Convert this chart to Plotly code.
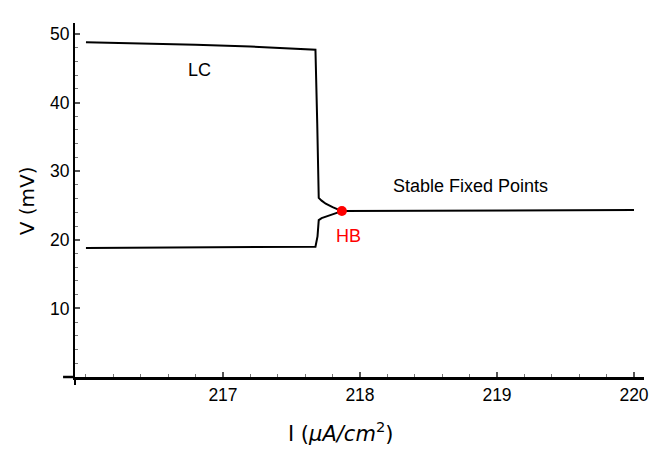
import plotly.graph_objects as go

# ---- data ----
upper_I = [216.0, 216.4, 216.8, 217.2, 217.45, 217.6, 217.675, 217.688, 217.699, 217.72, 217.75, 217.80, 217.868]
upper_V = [48.78, 48.62, 48.42, 48.15, 47.95, 47.80, 47.70, 37.0, 26.10, 25.70, 25.25, 24.75, 24.18]

lower_I = [216.0, 216.8, 217.4, 217.675, 217.69, 217.699, 217.72, 217.749, 217.79, 217.831, 217.868]
lower_V = [18.79, 18.86, 18.93, 18.98, 20.5, 22.87, 23.15, 23.35, 23.68, 23.99, 24.18]

stable_I = [217.868, 218.5, 219.0, 219.5, 220.0]
stable_V = [24.18, 24.22, 24.26, 24.30, 24.33]

hb_I = [217.868]
hb_V = [24.18]

x_tickvals = [217, 218, 219, 220]
x_ticktext = ["217", "218", "219", "220"]
y_tickvals = [10, 20, 30, 40, 50]
y_ticktext = ["10", "20", "30", "40", "50"]

TICKFONT = dict(family="Liberation Sans, Arial, sans-serif", size=17.5, color="black")
LABELFONT = dict(family="Liberation Sans, Arial, sans-serif", size=18, color="black")

# page body has an 8px margin: figure coordinates are offset by 8px
W, H = 653, 443
L, R, T, B = 67, 14, 15, 74
PW, PH = W - L - R, H - T - B

fig = go.Figure()
line_style = dict(color="black", width=2)
fig.add_trace(go.Scatter(x=upper_I, y=upper_V, mode="lines", line=line_style, showlegend=False, hoverinfo="skip"))
fig.add_trace(go.Scatter(x=lower_I, y=lower_V, mode="lines", line=line_style, showlegend=False, hoverinfo="skip"))
fig.add_trace(go.Scatter(x=stable_I, y=stable_V, mode="lines", line=line_style, showlegend=False, hoverinfo="skip"))
fig.add_trace(go.Scatter(x=hb_I, y=hb_V, mode="markers", marker=dict(color="#ff0000", size=10), showlegend=False, hoverinfo="skip"))

fig.update_layout(
    width=W, height=H,
    margin=dict(l=L, r=R, t=T, b=B),
    paper_bgcolor="white", plot_bgcolor="white",
    xaxis=dict(
        range=[215.92, 220.073], showgrid=False, zeroline=False,
        showline=True, linecolor="black", linewidth=2.5,
        tickmode="array", tickvals=x_tickvals, ticktext=x_ticktext,
        ticks="inside", ticklen=5, tickwidth=1.5, tickcolor="#555",
        minor=dict(dtick=0.2, tick0=216, ticks="inside", ticklen=3, tickwidth=1.2, tickcolor="#777"),
        tickfont=TICKFONT,
    ),
    yaxis=dict(
        range=[0, 51.59], showgrid=False, zeroline=False,
        showline=True, linecolor="black", linewidth=2,
        tickmode="array", tickvals=y_tickvals, ticktext=y_ticktext,
        ticks="inside", ticklen=5, tickwidth=1.5, tickcolor="#555",
        minor=dict(dtick=2, tick0=0, ticks="inside", ticklen=3, tickwidth=1.2, tickcolor="#777"),
        tickfont=TICKFONT,
    ),
    annotations=[
        dict(x=216.83, y=44.74, xref="x", yref="y", text="LC", showarrow=False, font=LABELFONT),
        dict(x=218.81, y=27.83, xref="x", yref="y", text="Stable Fixed Points", showarrow=False, font=LABELFONT),
        dict(x=217.917, y=20.54, xref="x", yref="y", text="HB", showarrow=False,
             font=dict(family="Liberation Sans, Arial, sans-serif", size=18, color="#ff0000")),
        dict(x=(342 - 75) / PW, y=-(432 - 377) / PH, xref="paper", yref="paper",
             xanchor="center", yanchor="middle",
             text="I (<i>μA/cm</i><sup>2</sup>)", showarrow=False,
             font=dict(family="DejaVu Sans, sans-serif", size=21, color="black")),
        dict(x=-(75 - 27) / PW, y=(377 - 201) / PH, xref="paper", yref="paper",
             xanchor="center", yanchor="middle",
             text="V (mV)", textangle=-90, showarrow=False,
             font=dict(family="DejaVu Sans, sans-serif", size=20, color="black")),
    ],
    shapes=[
        dict(type="line", xref="paper", yref="paper", x0=-12 / PW, x1=0, y0=0, y1=0,
             line=dict(color="black", width=2.5)),
        dict(type="line", xref="paper", yref="paper", x0=0, x1=0, y0=-8 / PH, y1=0,
             line=dict(color="black", width=2)),
    ],
)

fig.write_html("out.html")
